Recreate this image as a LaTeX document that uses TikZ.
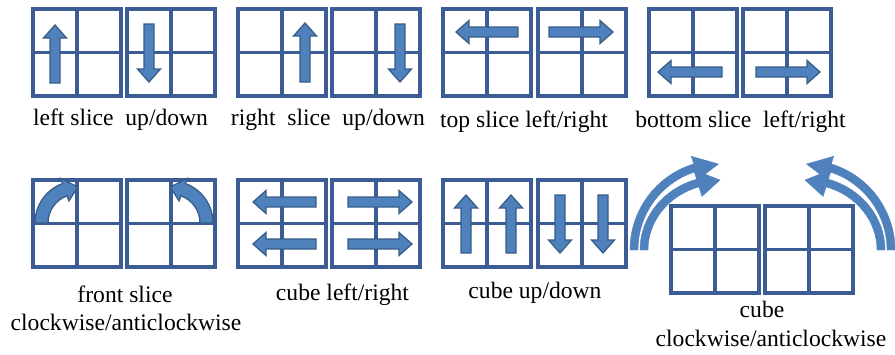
\documentclass[tikz,border=0pt]{standalone}
\usepackage{fontspec}
\setmainfont{Liberation Serif}
\definecolor{gridc}{HTML}{3B5C94}
\definecolor{arrfill}{HTML}{4F81BD}
\definecolor{arrline}{HTML}{385D8A}
\tikzset{
 gridline/.style={draw=gridc, line width=3.3pt},
 barrow/.style={fill=arrfill, draw=arrline, line width=1.3pt, line join=miter},
 carrow/.style={fill=arrfill, draw=arrfill, line width=0.4pt},
 lbl/.style={font=\rmfamily\fontsize{23.6}{28}\selectfont, inner sep=0pt, anchor=base, text=black}
}
\newcommand{\cubegrid}[2]{%
 \draw[gridline] (#1,#2) rectangle ++(88,87);
 \draw[gridline] (#1+44,#2) -- ++(0,87);
 \draw[gridline] (#1,#2+43.5) -- ++(88,0);
}
\newcommand{\blkup}[3]{% cx, tip y, tail y
 \filldraw[barrow] (#1-5,#3) -- (#1-5,#2+13) -- (#1-11.5,#2+13) -- (#1,#2) -- (#1+11.5,#2+13) -- (#1+5,#2+13) -- (#1+5,#3) -- cycle;}
\newcommand{\blkdown}[3]{% cx, tail y, tip y
 \filldraw[barrow] (#1-5,#2) -- (#1-5,#3-13) -- (#1-11.5,#3-13) -- (#1,#3) -- (#1+11.5,#3-13) -- (#1+5,#3-13) -- (#1+5,#2) -- cycle;}
\newcommand{\blkleft}[3]{% cy, tip x, tail x
 \filldraw[barrow] (#3,#1-5) -- (#2+13,#1-5) -- (#2+13,#1-11.5) -- (#2,#1) -- (#2+13,#1+11.5) -- (#2+13,#1+5) -- (#3,#1+5) -- cycle;}
\newcommand{\blkright}[3]{% cy, tail x, tip x
 \filldraw[barrow] (#2,#1-5) -- (#3-13,#1-5) -- (#3-13,#1-11.5) -- (#3,#1) -- (#3-13,#1+11.5) -- (#3-13,#1+5) -- (#2,#1+5) -- cycle;}
\newcommand{\frontarc}{%
 \filldraw[barrow] (180:42) arc[start angle=180,end angle=250,radius=42] -- (250:47.5) -- (271:36) -- (250:23.5) -- (250:29) arc[start angle=250,end angle=180,radius=29] -- cycle;}
\newcommand{\cubearcs}{%
 \fill[carrow] (180:80 and 74) arc[start angle=180,end angle=253,x radius=80,y radius=74] -- (253:90 and 84) -- (270:76 and 70) -- (253:62 and 56) -- (253:72 and 66) arc[start angle=253,end angle=180,x radius=72,y radius=66] -- cycle;
 \fill[carrow] (180:90) arc[start angle=180,end angle=253,radius=90] -- (253:98) -- (269:86) -- (253:74) -- (253:82) arc[start angle=253,end angle=180,radius=82] -- cycle;}
\begin{document}
\begin{tikzpicture}[x=1pt,y=1pt,yscale=-1]
\useasboundingbox (0,0) rectangle (895,354);
% ---- row 1 grids
\cubegrid{33}{9}
\cubegrid{127}{9}
\cubegrid{238}{9}
\cubegrid{332}{9}
\cubegrid{443}{9}
\cubegrid{538}{9}
\cubegrid{649}{9}
\cubegrid{743}{9}
% ---- row 1 arrows
\blkup{55}{25}{83}
\blkdown{149}{24}{82}
\blkup{305}{23}{82}
\blkdown{400}{24}{82}
\blkleft{32}{456}{518}
\blkright{32}{549}{613}
\blkleft{72}{658}{722}
\blkright{72}{756}{820}
% ---- row 2 grids
\cubegrid{33}{180}
\cubegrid{127}{180}
\cubegrid{238}{180}
\cubegrid{332}{180}
\cubegrid{443}{180}
\cubegrid{538}{180}
\cubegrid{671}{206}
\cubegrid{765}{206}
% ---- row 2 arrows
\begin{scope}[shift={(77,223)}]\frontarc\end{scope}
\begin{scope}[shift={(171,223)},xscale=-1]\frontarc\end{scope}
\blkleft{202}{253}{316}
\blkleft{244}{253}{316}
\blkright{202}{348}{412}
\blkright{244}{348}{412}
\blkup{466}{195}{253}
\blkup{511}{195}{253}
\blkdown{560}{195}{253}
\blkdown{603}{195}{253}
\begin{scope}[shift={(720,250)}]\cubearcs\end{scope}
\begin{scope}[shift={(805,250)},xscale=-1]\cubearcs\end{scope}
% ---- labels
\node[lbl] (l1) at (120.5,125) {left slice~~up/down};
\node[lbl] (l2) at (328,125) {right~~slice~~up/down};
\node[lbl] (l3) at (524,127) {top slice left/right};
\node[lbl] (l4) at (740.5,127) {bottom slice~~left/right};
\node[lbl] (l5) at (125,302) {front slice};
\node[lbl] (l6) at (126,330.5) {clockwise/anticlockwise};
\node[lbl] (l7) at (342.5,300) {cube left/right};
\node[lbl] (l8) at (535,298) {cube up/down};
\node[lbl] (l9) at (762,317) {cube};
\node[lbl] (l10) at (771,346.5) {clockwise/anticlockwise};
\end{tikzpicture}
\end{document}
